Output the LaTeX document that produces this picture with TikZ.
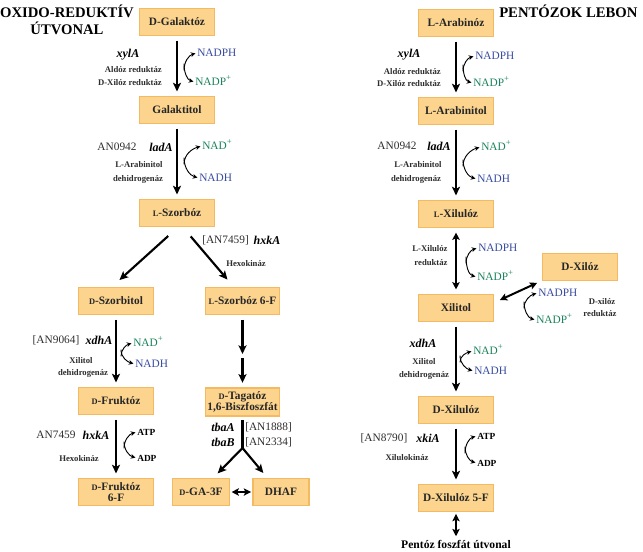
\documentclass[tikz,border=0pt]{standalone}
\usepackage{fontspec}
\setmainfont{Liberation Serif}
\usetikzlibrary{arrows.meta}
\definecolor{boxfill}{RGB}{252,212,142}
\definecolor{boxline}{RGB}{243,186,98}
\definecolor{nblue}{RGB}{55,75,160}
\definecolor{ngreen}{RGB}{25,130,90}
\definecolor{gtext}{RGB}{45,45,45}
\newcommand\smc[1]{{\fontsize{6.3pt}{7pt}\selectfont #1}}
\newcommand\plusup{\raisebox{3.8pt}{\fontsize{6.5pt}{7pt}\selectfont +}}
\newcommand\cofcyc[3]{%
  \draw[cyc] ([yshift=-2.5pt]#1) to[out=90,in=195] (#2.west);
  \draw[cyc] ([yshift=2.5pt]#1) to[out=-90,in=165] (#3.west);}
\begin{document}
\begin{tikzpicture}[x=0.75pt,y=-0.75pt,
  box/.style={draw=boxline, line width=0.8pt, fill=boxfill, minimum width=56pt, minimum height=20pt,
    inner sep=1pt, font=\fontsize{8.5pt}{9.5pt}\selectfont\bfseries, align=center, text=black!85},
  main/.style={line width=1.6pt, shorten <=3.5pt, shorten >=3.5pt, -{Stealth[length=6.5pt,width=6pt,inset=1.5pt]}},
  dbl/.style={line width=1.5pt, {Stealth[length=5.5pt,width=5.5pt,inset=1.2pt]}-{Stealth[length=5.5pt,width=5.5pt,inset=1.2pt]}},
  cyc/.style={line width=0.7pt, shorten >=1.2pt, -{Stealth[length=3.5pt,width=3.5pt]}},
  lbl/.style={inner sep=0pt, text height=4.6pt, text depth=0pt, font=\fontsize{6.5pt}{7.5pt}\selectfont\bfseries, text=gtext},
  cof/.style={inner sep=0pt, text height=5.6pt, text depth=0pt, anchor=west, font=\fontsize{8.5pt}{9.5pt}\selectfont},
  blu/.style={cof, text=nblue},
  grn/.style={cof, text=ngreen},
  blk/.style={cof, text=black, font=\fontsize{7pt}{8pt}\selectfont\bfseries, text height=4.6pt},
  gene/.style={inner sep=0pt, text height=6pt, text depth=0pt, font=\fontsize{9pt}{10pt}\selectfont\bfseries\itshape},
  anno/.style={inner sep=0pt, text height=5.6pt, text depth=0pt, font=\fontsize{8.5pt}{9.5pt}\selectfont, text=gtext},
  ttl/.style={inner sep=0pt, font=\fontsize{11pt}{12.75pt}\selectfont\bfseries, align=center}
]
\useasboundingbox (0,0) rectangle (643,551);

% titles
\node[ttl] (t1) at (67,20) {OXIDO-REDUKTÍV\\ÚTVONAL};
\node[ttl, anchor=west] (t2) at (499,11) {PENTÓZOK LEBON};

% ---------- left pathway boxes ----------
\node[box] (gal)  at (177,22)  {D-Galaktóz};
\node[box] (galt) at (177,110) {Galaktitol};
\node[box] (lsz)  at (177,213) {\smc{L}-Szorbóz};
\node[box] (dsz)  at (116,301) {\smc{D}-Szorbitol};
\node[box] (ls6)  at (242.5,301) {\smc{L}-Szorbóz 6-F};
\node[box] (dfr)  at (116,401) {\smc{D}-Fruktóz};
\node[box, minimum height=21pt, inner sep=0.5pt] (tag) at (242.5,402) {\smc{D}-Tagatóz\\[-1pt]1,6-Biszfoszfát};
\node[box] (f6)   at (116,492) {\smc{D}-Fruktóz\\[-1pt]6-F};
\node[box, minimum width=43pt] (dga)  at (201,492) {\smc{D}-GA-3F};
\node[box, minimum width=42pt] (dhaf) at (281,492) {DHAF};

% ---------- right pathway boxes ----------
\node[box] (lar)  at (456,23)  {L-Arabinóz};
\node[box] (lait) at (456,111) {L-Arabinitol};
\node[box] (lxu)  at (456,214) {\smc{L}-Xilulóz};
\node[box] (dxy)  at (580,267) {D-Xilóz};
\node[box] (xil)  at (456,308) {Xilitol};
\node[box] (dxu)  at (456,410) {D-Xilulóz};
\node[box] (x5f)  at (456,498) {D-Xilulóz 5-F};
\node[inner sep=0pt, font=\fontsize{8.7pt}{10pt}\selectfont\bfseries] (pfu) at (456,544) {Pentóz foszfát útvonal};

% ---------- left main arrows ----------
\draw[main] (gal) -- (galt);
\draw[main] (galt) -- (lsz);
\draw[main] ([xshift=-4pt,yshift=-4.5pt]lsz.south) -- ([yshift=3pt]dsz.north);
\draw[main] ([xshift=8pt,yshift=-4.5pt]lsz.south) -- ([xshift=-9pt,yshift=3pt]ls6.north);
\draw[main] (dsz) -- (dfr);
\draw[main] (dfr) -- (f6);
\coordinate (mid6) at (242.5,356);
\draw[main, shorten >=1.5pt] (ls6) -- (mid6);
\draw[main, shorten <=1.5pt] (mid6) -- (tag);
\coordinate (split) at (242.5,448);
\draw[line width=1.6pt, shorten <=2.5pt] (tag.south) -- (split);
\draw[main, shorten <=0pt, shorten >=5pt] (split) -- ([xshift=9pt]dga.north);
\draw[main, shorten <=0pt, shorten >=5pt] (split) -- ([xshift=-10pt]dhaf.north);
\draw[dbl, shorten <=1pt, shorten >=1pt] (dga) -- (dhaf);

% ---------- right main arrows ----------
\draw[main] (lar) -- (lait);
\draw[main] (lait) -- (lxu);
\draw[dbl, shorten <=3.5pt, shorten >=3.5pt] (lxu) -- (xil);
\draw[main] (xil) -- (dxu);
\draw[main] (dxu) -- (x5f);
\draw[dbl, shorten <=1.5pt, shorten >=2.5pt] (x5f) -- (pfu);
\draw[dbl] ([xshift=4.5pt,yshift=6pt]xil.east) -- ([xshift=-3.75pt,yshift=-1.5pt]dxy.south west);

% ---------- left labels ----------
\node[gene] (g1) at (128,53) {xylA};
\node[lbl, anchor=east] (e1a) at (162,69) {Aldóz reduktáz};
\node[lbl, anchor=east] (e1b) at (162,82) {D-Xilóz reduktáz};
\node[blu] (c1a) at (197,53) {NADPH};
\node[grn] (c1b) at (195,82) {NADP\plusup};
\coordinate (k1) at (184,67);
\cofcyc{k1}{c1a}{c1b}

\node[anno] (a2) at (117,147) {AN0942};
\node[gene] (g2) at (161,147) {ladA};
\node[lbl] (e2a) at (139,164) {L-Arabinitol};
\node[lbl] (e2b) at (138,178) {dehidrogenáz};
\node[grn] (c2a) at (202,146) {NAD\plusup};
\node[blu] (c2b) at (199,178) {NADH};
\coordinate (k2) at (184,161);
\cofcyc{k2}{c2a}{c2b}

\node[anno, anchor=west] (a3) at (202,240) {[AN7459]};
\node[gene] (g3) at (267,240) {hxkA};
\node[lbl] (e3) at (246,263) {Hexokináz};

\node[anno] (a4) at (56,340) {[AN9064]};
\node[gene] (g4) at (99,340) {xdhA};
\node[lbl] (e4a) at (81,360) {Xilitol};
\node[lbl] (e4b) at (83,372) {dehidrogenáz};
\node[grn] (c4a) at (133,343) {NAD\plusup};
\node[blu] (c4b) at (135,364) {NADH};
\coordinate (k4) at (121,353);
\cofcyc{k4}{c4a}{c4b}

\node[anno] (a5) at (56,435) {AN7459};
\node[gene] (g5) at (96,435) {hxkA};
\node[lbl] (e5) at (79,458) {Hexokináz};
\node[blk] (c5a) at (137,432) {ATP};
\node[blk] (c5b) at (137,458) {ADP};
\coordinate (k5) at (124,445);
\cofcyc{k5}{c5a}{c5b}

\node[gene, anchor=east] (g6a) at (235,427) {tbaA};
\node[gene, anchor=east] (g6b) at (235,442) {tbaB};
\node[anno, anchor=west] (a6a) at (245,427) {[AN1888]};
\node[anno, anchor=west] (a6b) at (245,442) {[AN2334]};

% ---------- right labels ----------
\node[gene] (r1) at (409,53) {xylA};
\node[lbl, anchor=east] (q1a) at (441,71) {Aldóz reduktáz};
\node[lbl, anchor=east] (q1b) at (441,83) {D-Xilóz reduktáz};
\node[blu] (d1a) at (475,56) {NADPH};
\node[grn] (d1b) at (473,83) {NADP\plusup};
\coordinate (m1) at (463,68);
\cofcyc{m1}{d1a}{d1b}

\node[anno] (b2) at (397,146) {AN0942};
\node[gene] (r2) at (439,146) {ladA};
\node[lbl] (q2a) at (418,164) {L-Arabinitol};
\node[lbl] (q2b) at (416,178) {dehidrogenáz};
\node[grn] (d2a) at (481,147) {NAD\plusup};
\node[blu] (d2b) at (477,179) {NADH};
\coordinate (m2) at (463,163);
\cofcyc{m2}{d2a}{d2b}

\node[lbl] (q3a) at (430,248) {L-Xilulóz};
\node[lbl] (q3b) at (431,262) {reduktáz};
\node[blu] (d3a) at (478,248) {NADPH};
\node[grn] (d3b) at (477,277) {NADP\plusup};
\coordinate (m3) at (466,260);
\cofcyc{m3}{d3a}{d3b}

\node[lbl] (q4a) at (602,301) {D-xilóz};
\node[lbl] (q4b) at (600,313) {reduktáz};
\node[blu] (d4a) at (538,293) {NADPH};
\node[grn] (d4b) at (536,320) {NADP\plusup};
\coordinate (m4) at (524,305);
\cofcyc{m4}{d4a}{d4b}

\node[gene] (r5) at (423,343) {xdhA};
\node[lbl] (q5a) at (424,361) {Xilitol};
\node[lbl] (q5b) at (424,374) {dehidrogenáz};
\node[grn] (d5a) at (473,351) {NAD\plusup};
\node[blu] (d5b) at (474,371) {NADH};
\coordinate (m5) at (460,359);
\cofcyc{m5}{d5a}{d5b}

\node[anno] (b6) at (384,438) {[AN8790]};
\node[gene] (r6) at (428,438) {xkiA};
\node[lbl] (q6) at (407,457) {Xilulokináz};
\node[blk] (d6a) at (477,436) {ATP};
\node[blk] (d6b) at (477,463) {ADP};
\coordinate (m6) at (465,450);
\cofcyc{m6}{d6a}{d6b}
\end{tikzpicture}
\end{document}
